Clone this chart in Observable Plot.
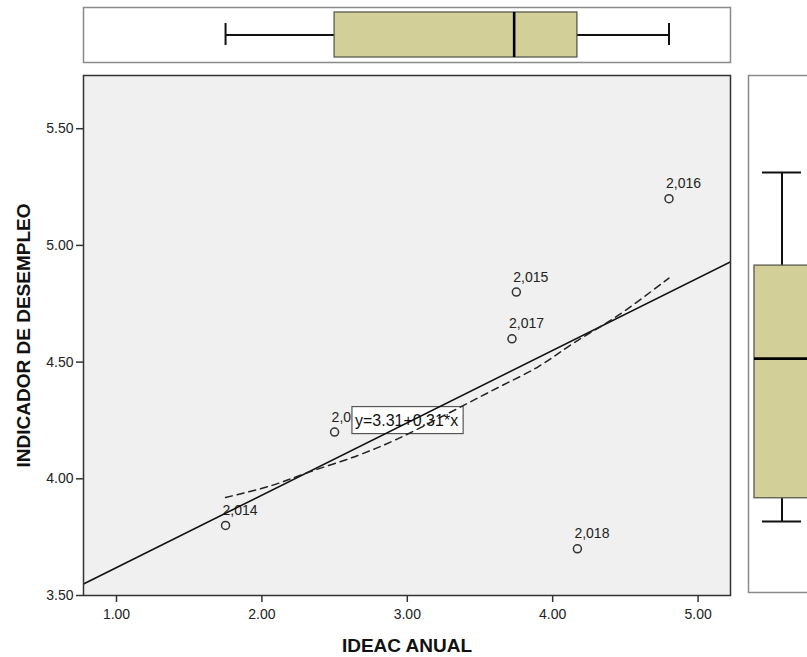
<!DOCTYPE html>
<html>
<head>
<meta charset="utf-8">
<script src="https://cdn.jsdelivr.net/npm/d3@7"></script>
<script src="https://cdn.jsdelivr.net/npm/@observablehq/plot@0.6"></script>
<style>
  html, body { margin: 0; padding: 0; background: #fff; overflow: hidden; }
  #chart { position: relative; width: 807px; height: 657px; overflow: hidden; }
  #chart > svg { position: absolute; top: 0; }
</style>
</head>
<body>
<div id="chart"></div>
<script>
// Observations: year, IDEAC ANUAL, INDICADOR DE DESEMPLEO
const years = [2013, 2014, 2015, 2016, 2017, 2018];
const ideacAnual = [2.50, 1.75, 3.75, 4.80, 3.72, 4.17];
const indicadorDesempleo = [4.20, 3.80, 4.80, 5.20, 4.60, 3.70];

// Linear fit coefficients (as printed on the chart)
const fitIntercept = 3.31;
const fitSlope = 0.31;

// Loess smoother, read along its path
const loessX = [1.75, 2.06, 2.33, 2.66, 2.93, 3.28, 3.59, 3.90, 4.14, 4.45, 4.80];
const loessY = [3.92, 3.97, 4.03, 4.10, 4.17, 4.28, 4.38, 4.48, 4.58, 4.70, 4.86];

// Axis ticks
const xTicks = [1, 2, 3, 4, 5];
const yTicks = [3.5, 4.0, 4.5, 5.0, 5.5];

const font = "'Liberation Sans', Arial, Helvetica, sans-serif";
const fmtTick = d3.format(".2f");
const fmtYear = d3.format(",");
const boxFill = "#d3cf99";

// Tukey hinges + whiskers (1.5 IQR) for the marginal boxplots
function tukeyStats(values) {
  const s = values.slice().sort(d3.ascending);
  const n = s.length;
  const lower = n % 2 ? s.slice(0, (n + 1) / 2) : s.slice(0, n / 2);
  const upper = n % 2 ? s.slice((n - 1) / 2) : s.slice(n / 2);
  const q1 = d3.median(lower), q3 = d3.median(upper), median = d3.median(s);
  const iqr = q3 - q1;
  const lo = d3.min(s.filter(v => v >= q1 - 1.5 * iqr));
  const hi = d3.max(s.filter(v => v <= q3 + 1.5 * iqr));
  return {q1, q3, median, lo, hi};
}

const points = years.map((year, i) => ({year, x: ideacAnual[i], y: indicadorDesempleo[i]}));
const xDomain = [0.773, 5.223];
const yDomain = [3.5, 5.728];
const fitLine = xDomain.map(x => ({x, y: fitIntercept + fitSlope * x}));
const loess = loessX.map((x, i) => ({x, y: loessY[i]}));
const eqLabel = `y=${fmtTick(fitIntercept)}+${fmtTick(fitSlope)}*x`;
const eqAnchor = [{x: 2.64, y: 4.25, label: eqLabel}];

const chart = document.getElementById("chart");

// Main scatterplot
const main = Plot.plot({
  width: 807,
  height: 657,
  marginLeft: 83,
  marginRight: 77,
  marginTop: 75,
  marginBottom: 62,
  style: {fontFamily: font, fontSize: "14px", color: "#222", background: "transparent"},
  x: {domain: xDomain},
  y: {domain: yDomain},
  marks: [
    Plot.frame({fill: "#f0f0f0"}),
    Plot.axisX({ticks: xTicks, tickFormat: fmtTick, tickSize: 7, tickPadding: 7, label: null, fontSize: 14, strokeWidth: 1.5, stroke: "#333"}),
    Plot.axisY({ticks: yTicks, tickFormat: fmtTick, tickSize: 7, tickPadding: 3, label: null, fontSize: 14, strokeWidth: 1.5, stroke: "#333"}),
    Plot.dot(points, {x: "x", y: "y", r: 4, stroke: "#333", strokeWidth: 1.5, fill: "none"}),
    Plot.text(points, {x: "x", y: "y", text: d => fmtYear(d.year), textAnchor: "start", dx: -3, dy: -15, fontSize: 14, fill: "#222"}),
    Plot.text(eqAnchor, {x: "x", y: "y", text: "label", textAnchor: "start", fontSize: 16, fill: "#111"}),
    Plot.line(fitLine, {x: "x", y: "y", stroke: "#111", strokeWidth: 1.6, clip: true}),
    Plot.line(loess, {x: "x", y: "y", stroke: "#222", strokeWidth: 1.5, strokeDasharray: "7,5", curve: "catmull-rom"}),
    Plot.frame({stroke: "#333", strokeWidth: 1.5}),
    Plot.text(["IDEAC ANUAL"], {frameAnchor: "bottom", lineAnchor: "middle", textAnchor: "middle", dy: 50, fontWeight: "bold", fontSize: 19, fill: "#111"}),
    Plot.text(["INDICADOR DE DESEMPLEO"], {frameAnchor: "left", textAnchor: "middle", lineAnchor: "middle", dx: -60, rotate: -90, fontWeight: "bold", fontSize: 19, fill: "#111"})
  ]
});
main.style.left = "0px";
chart.appendChild(main);

// Framed box behind the fit equation
for (const t of main.querySelectorAll("text")) {
  if (t.textContent === eqLabel) {
    const bb = t.getBBox();
    const rect = document.createElementNS("http://www.w3.org/2000/svg", "rect");
    rect.setAttribute("x", bb.x - 3);
    rect.setAttribute("y", bb.y - 5);
    rect.setAttribute("width", bb.width + 8);
    rect.setAttribute("height", bb.height + 10);
    rect.setAttribute("fill", "#ffffff");
    rect.setAttribute("stroke", "#555");
    rect.setAttribute("stroke-width", "1.2");
    if (t.getAttribute("transform")) rect.setAttribute("transform", t.getAttribute("transform"));
    t.parentNode.insertBefore(rect, t);
    break;
  }
}

// Marginal boxplot of IDEAC ANUAL (top)
const xs = tukeyStats(ideacAnual);
const band = () => "IDEAC";
const topBox = Plot.plot({
  width: 807,
  height: 64,
  marginLeft: 83,
  marginRight: 77,
  marginTop: 7,
  marginBottom: 2,
  style: {background: "transparent"},
  x: {domain: xDomain, axis: null},
  y: {domain: ["IDEAC"], axis: null, padding: 0},
  marks: [
    Plot.frame({fill: "#fff", stroke: "#8a8a8a", strokeWidth: 1.5}),
    Plot.ruleY([xs], {y: band, x1: "lo", x2: "hi", stroke: "#111", strokeWidth: 2}),
    Plot.tickX([xs.lo, xs.hi], {x: d => d, y: band, stroke: "#111", strokeWidth: 2, insetTop: 16, insetBottom: 17}),
    Plot.barX([xs], {x1: "q1", x2: "q3", y: band, fill: boxFill, stroke: "#5a5a50", strokeWidth: 1.3, insetTop: 5, insetBottom: 5}),
    Plot.tickX([xs], {x: "median", y: band, stroke: "#000", strokeWidth: 2.6, insetTop: 5, insetBottom: 5})
  ]
});
topBox.style.left = "0px";
chart.appendChild(topBox);

// Marginal boxplot of INDICADOR DE DESEMPLEO (right)
const ys = tukeyStats(indicadorDesempleo);
const sideBand = () => "DESEMPLEO";
const sideBox = Plot.plot({
  width: 80,
  height: 657,
  marginLeft: 8,
  marginRight: 5,
  marginTop: 75,
  marginBottom: 65,
  style: {background: "transparent"},
  x: {domain: ["DESEMPLEO"], axis: null, padding: 0},
  y: {domain: [3.395, 5.617], axis: null},
  marks: [
    Plot.frame({fill: "#fff", stroke: "#8a8a8a", strokeWidth: 1.5}),
    Plot.ruleX([ys], {x: sideBand, y1: "lo", y2: "hi", stroke: "#111", strokeWidth: 2}),
    Plot.tickY([ys.lo, ys.hi], {y: d => d, x: sideBand, stroke: "#111", strokeWidth: 2, insetLeft: 14, insetRight: 14}),
    Plot.barY([ys], {y1: "q1", y2: "q3", x: sideBand, fill: boxFill, stroke: "#5a5a50", strokeWidth: 1.3, insetLeft: 6, insetRight: 6}),
    Plot.tickY([ys], {y: "median", x: sideBand, stroke: "#000", strokeWidth: 2.6, insetLeft: 6, insetRight: 6})
  ]
});
sideBox.style.left = "740px";
chart.appendChild(sideBox);
</script>
</body>
</html>
